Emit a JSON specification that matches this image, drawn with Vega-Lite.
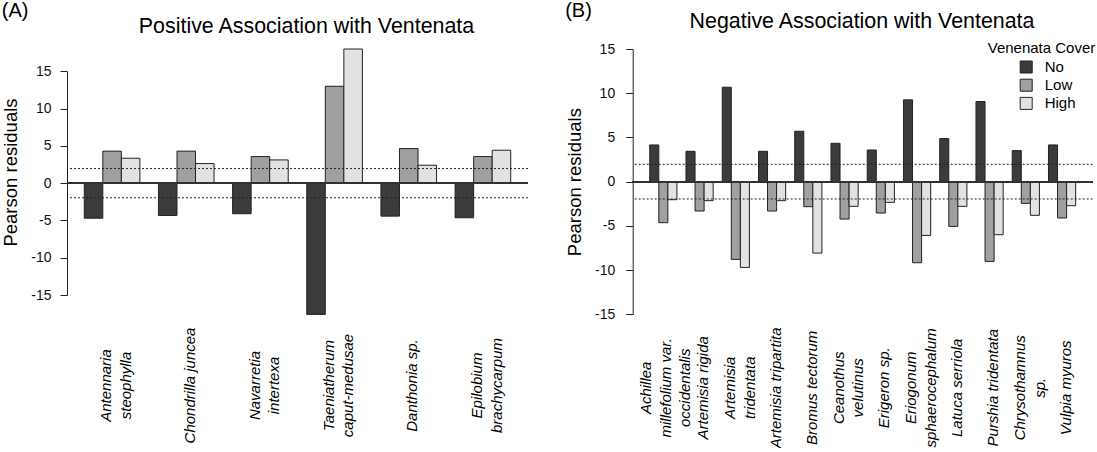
{
  "$schema": "https://vega.github.io/schema/vega-lite/v6.json",
  "background": "white",
  "padding": {"left": 1, "top": 0, "right": 0, "bottom": 0},
  "autosize": {"type": "pad"},
  "config": {"font": "Liberation Sans", "view": {"stroke": null}},
  "datasets": {
    "pos": [
      {"species": "Antennaria\nsteophylla", "cover": "No", "residual": -4.7},
      {"species": "Antennaria\nsteophylla", "cover": "Low", "residual": 4.3},
      {"species": "Antennaria\nsteophylla", "cover": "High", "residual": 3.35},
      {"species": "Chondrilla juncea", "cover": "No", "residual": -4.33},
      {"species": "Chondrilla juncea", "cover": "Low", "residual": 4.3},
      {"species": "Chondrilla juncea", "cover": "High", "residual": 2.63},
      {"species": "Navarretia\nintertexa", "cover": "No", "residual": -4.1},
      {"species": "Navarretia\nintertexa", "cover": "Low", "residual": 3.57},
      {"species": "Navarretia\nintertexa", "cover": "High", "residual": 3.12},
      {"species": "Taeniatherum\ncaput-medusae", "cover": "No", "residual": -17.6},
      {"species": "Taeniatherum\ncaput-medusae", "cover": "Low", "residual": 13.0},
      {"species": "Taeniatherum\ncaput-medusae", "cover": "High", "residual": 18.0},
      {"species": "Danthonia sp.", "cover": "No", "residual": -4.42},
      {"species": "Danthonia sp.", "cover": "Low", "residual": 4.64},
      {"species": "Danthonia sp.", "cover": "High", "residual": 2.41},
      {"species": "Epilobium\nbrachycarpum", "cover": "No", "residual": -4.64},
      {"species": "Epilobium\nbrachycarpum", "cover": "Low", "residual": 3.57},
      {"species": "Epilobium\nbrachycarpum", "cover": "High", "residual": 4.42}
    ],
    "neg": [
      {"species": "Achillea\nmillefolium var.\noccidentalis", "cover": "No", "residual": 4.15},
      {"species": "Achillea\nmillefolium var.\noccidentalis", "cover": "Low", "residual": -4.64},
      {"species": "Achillea\nmillefolium var.\noccidentalis", "cover": "High", "residual": -2.04},
      {"species": "Artemisia rigida", "cover": "No", "residual": 3.43},
      {"species": "Artemisia rigida", "cover": "Low", "residual": -3.32},
      {"species": "Artemisia rigida", "cover": "High", "residual": -2.15},
      {"species": "Artemisia\ntridentata", "cover": "No", "residual": 10.68},
      {"species": "Artemisia\ntridentata", "cover": "Low", "residual": -8.79},
      {"species": "Artemisia\ntridentata", "cover": "High", "residual": -9.7},
      {"species": "Artemisia tripartita", "cover": "No", "residual": 3.43},
      {"species": "Artemisia tripartita", "cover": "Low", "residual": -3.32},
      {"species": "Artemisia tripartita", "cover": "High", "residual": -2.15},
      {"species": "Bromus tectorum", "cover": "No", "residual": 5.7},
      {"species": "Bromus tectorum", "cover": "Low", "residual": -2.83},
      {"species": "Bromus tectorum", "cover": "High", "residual": -8.08},
      {"species": "Ceanothus\nvelutinus", "cover": "No", "residual": 4.34},
      {"species": "Ceanothus\nvelutinus", "cover": "Low", "residual": -4.23},
      {"species": "Ceanothus\nvelutinus", "cover": "High", "residual": -2.79},
      {"species": "Erigeron sp.", "cover": "No", "residual": 3.58},
      {"species": "Erigeron sp.", "cover": "Low", "residual": -3.55},
      {"species": "Erigeron sp.", "cover": "High", "residual": -2.34},
      {"species": "Eriogonum\nsphaerocephalum", "cover": "No", "residual": 9.25},
      {"species": "Eriogonum\nsphaerocephalum", "cover": "Low", "residual": -9.17},
      {"species": "Eriogonum\nsphaerocephalum", "cover": "High", "residual": -6.08},
      {"species": "Latuca serriola", "cover": "No", "residual": 4.87},
      {"species": "Latuca serriola", "cover": "Low", "residual": -5.06},
      {"species": "Latuca serriola", "cover": "High", "residual": -2.79},
      {"species": "Purshia tridentata", "cover": "No", "residual": 9.06},
      {"species": "Purshia tridentata", "cover": "Low", "residual": -9.02},
      {"species": "Purshia tridentata", "cover": "High", "residual": -6.0},
      {"species": "Chrysothamnus\nsp.", "cover": "No", "residual": 3.51},
      {"species": "Chrysothamnus\nsp.", "cover": "Low", "residual": -2.45},
      {"species": "Chrysothamnus\nsp.", "cover": "High", "residual": -3.81},
      {"species": "Vulpia myuros", "cover": "No", "residual": 4.15},
      {"species": "Vulpia myuros", "cover": "Low", "residual": -4.11},
      {"species": "Vulpia myuros", "cover": "High", "residual": -2.72}
    ],
    "limits": [{"threshold": 1.96}, {"threshold": -1.96}]
  },
  "columns": 2,
  "align": "none",
  "spacing": 35.7,
  "resolve": {"scale": {"color": "independent", "x": "independent", "y": "independent", "xOffset": "independent"}, "legend": {"color": "independent"}, "axis": {"x": "independent", "y": "independent"}},
  "concat": [
    {
      "title": {"text": "(A)", "anchor": "start", "frame": "bounds", "fontSize": 20, "fontWeight": "normal", "color": "black", "baseline": "alphabetic", "offset": -21.4},
      "width": 461,
      "height": 246,
      "data": {"name": "pos"},
      "layer": [
        {
          "mark": {"type": "bar", "stroke": "#222222", "strokeWidth": 1},
          "encoding": {
            "x": {"field": "species", "type": "nominal", "sort": null,
              "scale": {"paddingInner": 0.25, "paddingOuter": 0.233},
              "axis": {"title": "Positive Association with Ventenata", "titleX": 239, "titleY": -262.7, "titleAlign": "center", "titleBaseline": "alphabetic", "titleAngle": 0, "titleFontSize": 21.4, "titleFontWeight": "normal", "titleColor": "black",
                "domain": false, "ticks": false, "labelAngle": 270, "labelAlign": "center", "labelBaseline": "middle", "labelPadding": 90,
                "labelOffset": {"condition": [{"test": "length(split(datum.value, '\\n')) == 3", "value": -17}, {"test": "length(split(datum.value, '\\n')) == 2", "value": -5.75}], "value": 3.5},
                "labelFontStyle": "italic", "labelFontSize": 15, "labelLineHeight": 19.5, "labelColor": "black", "labelLimit": 0, "labelOverlap": false, "labelExpr": "split(datum.label, '\\n')"}},
            "xOffset": {"field": "cover", "type": "nominal", "sort": ["No", "Low", "High"], "scale": {"paddingInner": 0, "paddingOuter": 0}},
            "y": {"field": "residual", "type": "quantitative", "stack": null,
              "scale": {"domain": [-15, 18], "nice": false, "zero": false},
              "axis": {"title": "Pearson residuals", "values": [-15, -10, -5, 0, 5, 10, 15], "grid": false, "labelOverlap": false, "labelExpr": "datum.value < 0 ? '-' + abs(datum.value) : datum.label", "titleFontSize": 18.5, "titleFontWeight": "normal", "titleColor": "black", "titlePadding": 9.9, "labelFontSize": 14, "labelColor": "#111111", "labelPadding": 9, "tickSize": 7, "tickColor": "#222222", "domain": true, "domainColor": "#222222", "domainWidth": 1, "domainDash": [223.7, 60]}},
            "color": {"field": "cover", "type": "nominal", "sort": ["No", "Low", "High"], "scale": {"domain": ["No", "Low", "High"], "range": ["#3b3b3b", "#a0a0a0", "#e2e2e2"]}, "legend": null}
          }
        },
        {
          "mark": {"type": "rule", "stroke": "#333333", "strokeWidth": 1},
          "encoding": {"y": {"datum": 0}}
        },
        {
          "data": {"name": "limits"},
          "mark": {"type": "rule", "stroke": "#222222", "strokeWidth": 1, "strokeDash": [2, 2]},
          "encoding": {"y": {"field": "threshold", "type": "quantitative", "title": "Pearson residuals"}}
        }
      ]
    },
    {
      "title": {"text": "(B)", "anchor": "start", "frame": "bounds", "fontSize": 20, "fontWeight": "normal", "color": "black", "baseline": "alphabetic", "offset": -26.4},
      "width": 460,
      "height": 265.3,
      "data": {"name": "neg"},
      "layer": [
        {
          "mark": {"type": "bar", "stroke": "#222222", "strokeWidth": 1},
          "encoding": {
            "x": {"field": "species", "type": "nominal", "sort": null,
              "scale": {"paddingInner": 0.25, "paddingOuter": 0.47},
              "axis": {"title": "Negative Association with Ventenata", "titleX": 228.8, "titleY": -287, "titleAlign": "center", "titleBaseline": "alphabetic", "titleAngle": 0, "titleFontSize": 21.4, "titleFontWeight": "normal", "titleColor": "black",
                "domain": false, "ticks": false, "labelAngle": 270, "labelAlign": "center", "labelBaseline": "middle", "labelPadding": 73,
                "labelOffset": {"condition": [{"test": "length(split(datum.value, '\\n')) == 3", "value": -17}, {"test": "length(split(datum.value, '\\n')) == 2", "value": -5.75}], "value": 3.5},
                "labelFontStyle": "italic", "labelFontSize": 15, "labelLineHeight": 19.5, "labelColor": "black", "labelLimit": 0, "labelOverlap": false, "labelExpr": "split(datum.label, '\\n')"}},
            "xOffset": {"field": "cover", "type": "nominal", "sort": ["No", "Low", "High"], "scale": {"paddingInner": 0, "paddingOuter": 0}},
            "y": {"field": "residual", "type": "quantitative", "stack": null,
              "scale": {"domain": [-15, 15], "nice": false, "zero": false},
              "axis": {"title": "Pearson residuals", "values": [-15, -10, -5, 0, 5, 10, 15], "grid": false, "labelOverlap": false, "labelExpr": "datum.value < 0 ? '-' + abs(datum.value) : datum.label", "titleFontSize": 18.5, "titleFontWeight": "normal", "titleColor": "black", "titlePadding": 10.3, "labelFontSize": 14, "labelColor": "#111111", "labelPadding": 11, "tickSize": 7, "tickColor": "#222222", "domain": true, "domainColor": "#222222", "domainWidth": 1}},
            "color": {"field": "cover", "type": "nominal", "sort": ["No", "Low", "High"], "scale": {"domain": ["No", "Low", "High"], "range": ["#3b3b3b", "#a0a0a0", "#e2e2e2"]},
              "legend": {"title": "Venenata Cover", "orient": "none", "legendX": 355, "legendY": -8.5, "padding": 0, "titleFontSize": 15, "titleFontWeight": "normal", "titleColor": "black", "titlePadding": 4, "labelFontSize": 15, "labelColor": "black", "symbolType": "square", "symbolSize": 144, "symbolStrokeColor": "#222222", "symbolStrokeWidth": 1, "symbolOffset": 31, "labelOffset": 11, "rowPadding": 1.2}}
          }
        },
        {
          "mark": {"type": "rule", "stroke": "#333333", "strokeWidth": 1},
          "encoding": {"y": {"datum": 0}}
        },
        {
          "data": {"name": "limits"},
          "mark": {"type": "rule", "stroke": "#222222", "strokeWidth": 1, "strokeDash": [2, 2]},
          "encoding": {"y": {"field": "threshold", "type": "quantitative", "title": "Pearson residuals"}}
        }
      ]
    }
  ]
}
